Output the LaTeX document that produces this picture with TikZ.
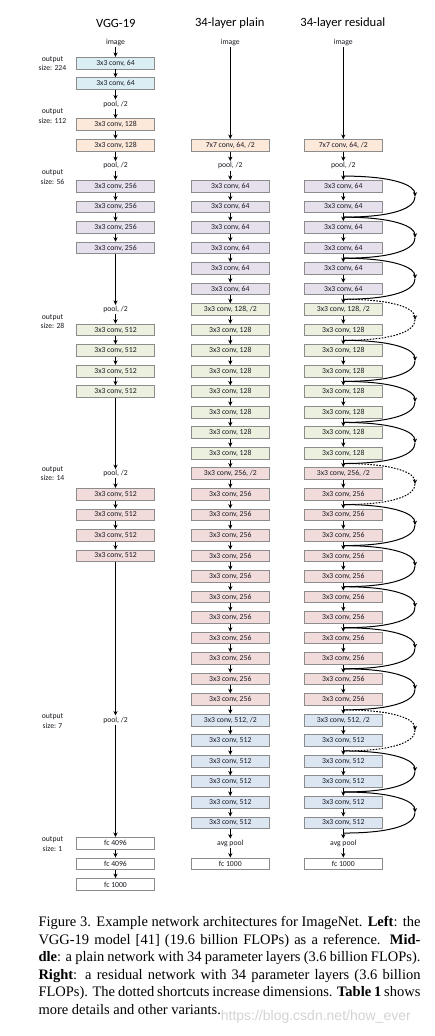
\documentclass[tikz,border=0pt]{standalone}
\usepackage{fontspec}
\setmainfont{Liberation Serif}
\newfontfamily\carl{Carlito}
\newfontfamily\wmfont{Liberation Sans}
\usetikzlibrary{arrows.meta}
\definecolor{cBlue}{HTML}{DAEEF3}
\definecolor{cPeach}{HTML}{FDE9D9}
\definecolor{cLav}{HTML}{E6E0EC}
\definecolor{cGreen}{HTML}{EBF1DE}
\definecolor{cPink}{HTML}{F2DCDB}
\definecolor{cSteel}{HTML}{DCE6F2}
\definecolor{cBorder}{HTML}{8C8C8C}
\definecolor{cText}{HTML}{1A1A22}
\newcommand{\rowy}[1]{145.3+20.53*(#1)}
\newcommand{\netcol}[2]{%
  \node[txt] (#1img) at (#2,{\rowy{-5}}) {image};
  \node[box,fill=cPeach] (#10) at (#2,{\rowy{0}}) {7x7 conv, 64, /2};
  \node[txt] (#11) at (#2,{\rowy{1}}) {pool, /2};
  \foreach \r in {2,...,7} {\node[box,fill=cLav] (#1\r) at (#2,{\rowy{\r}}) {3x3 conv, 64};}
  \node[box,fill=cGreen] (#18) at (#2,{\rowy{8}}) {3x3 conv, 128, /2};
  \foreach \r in {9,...,15} {\node[box,fill=cGreen] (#1\r) at (#2,{\rowy{\r}}) {3x3 conv, 128};}
  \node[box,fill=cPink] (#116) at (#2,{\rowy{16}}) {3x3 conv, 256, /2};
  \foreach \r in {17,...,27} {\node[box,fill=cPink] (#1\r) at (#2,{\rowy{\r}}) {3x3 conv, 256};}
  \node[box,fill=cSteel] (#128) at (#2,{\rowy{28}}) {3x3 conv, 512, /2};
  \foreach \r in {29,...,33} {\node[box,fill=cSteel] (#1\r) at (#2,{\rowy{\r}}) {3x3 conv, 512};}
  \node[txt] (#134) at (#2,{\rowy{34}}) {avg pool};
  \node[box,fill=white] (#135) at (#2,{\rowy{35}}) {fc 1000};
  \draw[arr] (#1img) -- (#10);
  \foreach \a [count=\b from 1] in {0,...,34} {\draw[arr] (#1\a) -- (#1\b);}
}
\begin{document}
\begin{tikzpicture}[x=1pt,y=-1pt,
  box/.style={draw=cBorder, line width=0.9pt, minimum width=78pt, minimum height=11.7pt,
    inner sep=0pt, font=\carl\fontsize{7.7}{8}\selectfont, text=cText},
  txt/.style={inner sep=1.2pt, font=\carl\fontsize{7.7}{8}\selectfont, text=cText},
  arr/.style={-{Stealth[length=4.5pt,width=4.2pt]}, line width=1pt},
  scut/.style={line width=1pt},
  dotcut/.style={line width=1pt, dash pattern=on 1.6pt off 1.4pt},
  scarr/.style={-{Stealth[length=4.5pt,width=4.2pt]}},
  titlefont/.style={font=\carl\fontsize{12.6}{14}\selectfont, text=black, inner sep=0pt},
  outlbl/.style={align=center, font=\carl\fontsize{7.7}{9.5}\selectfont, text=cText, inner sep=0pt}]
\fill[white] (0,0) rectangle (434,1036);
\useasboundingbox (0,0) rectangle (434,1036);

% titles
\node[titlefont] (t1) at (115.8,23) {VGG-19};
\node[titlefont] (t2) at (229.8,23) {34-layer plain};
\node[titlefont] (t3) at (342.8,23) {34-layer residual};

% output size labels
\node[outlbl] (o224) at (52.5,63.7) {output\\size: 224};
\node[outlbl] (o112) at (52.5,116.2) {output\\size: 112};
\node[outlbl] (o56) at (52.5,177.2) {output\\size: 56};
\node[outlbl] (o28) at (52.5,321.5) {output\\size: 28};
\node[outlbl] (o14) at (52.5,473.5) {output\\size: 14};
\node[outlbl] (o7) at (52.5,721) {output\\size: 7};
\node[outlbl] (o1) at (52.5,844) {output\\size: 1};

% VGG-19 column
\def\xv{115.5}
\node[txt] (vimg) at (\xv,{\rowy{-5}}) {image};
\node[box,fill=cBlue] (v1) at (\xv,{\rowy{-4}}) {3x3 conv, 64};
\node[box,fill=cBlue] (v2) at (\xv,{\rowy{-3}}) {3x3 conv, 64};
\node[txt] (vp1) at (\xv,{\rowy{-2}}) {pool, /2};
\node[box,fill=cPeach] (v3) at (\xv,{\rowy{-1}}) {3x3 conv, 128};
\node[box,fill=cPeach] (v4) at (\xv,{\rowy{0}}) {3x3 conv, 128};
\node[txt] (vp2) at (\xv,{\rowy{1}}) {pool, /2};
\node[box,fill=cLav] (v5) at (\xv,{\rowy{2}}) {3x3 conv, 256};
\node[box,fill=cLav] (v6) at (\xv,{\rowy{3}}) {3x3 conv, 256};
\node[box,fill=cLav] (v7) at (\xv,{\rowy{4}}) {3x3 conv, 256};
\node[box,fill=cLav] (v8) at (\xv,{\rowy{5}}) {3x3 conv, 256};
\node[txt] (vp3) at (\xv,{\rowy{8}}) {pool, /2};
\node[box,fill=cGreen] (v9) at (\xv,{\rowy{9}}) {3x3 conv, 512};
\node[box,fill=cGreen] (v10) at (\xv,{\rowy{10}}) {3x3 conv, 512};
\node[box,fill=cGreen] (v11) at (\xv,{\rowy{11}}) {3x3 conv, 512};
\node[box,fill=cGreen] (v12) at (\xv,{\rowy{12}}) {3x3 conv, 512};
\node[txt] (vp4) at (\xv,{\rowy{16}}) {pool, /2};
\node[box,fill=cPink] (v13) at (\xv,{\rowy{17}}) {3x3 conv, 512};
\node[box,fill=cPink] (v14) at (\xv,{\rowy{18}}) {3x3 conv, 512};
\node[box,fill=cPink] (v15) at (\xv,{\rowy{19}}) {3x3 conv, 512};
\node[box,fill=cPink] (v16) at (\xv,{\rowy{20}}) {3x3 conv, 512};
\node[txt] (vp5) at (\xv,{\rowy{28}}) {pool, /2};
\node[box,fill=white] (vf1) at (\xv,{\rowy{34}}) {fc 4096};
\node[box,fill=white] (vf2) at (\xv,{\rowy{35}}) {fc 4096};
\node[box,fill=white] (vf3) at (\xv,{\rowy{36}}) {fc 1000};
\foreach \a/\b in {vimg/v1,v1/v2,v2/vp1,vp1/v3,v3/v4,v4/vp2,vp2/v5,v5/v6,v6/v7,v7/v8,v8/vp3,
  vp3/v9,v9/v10,v10/v11,v11/v12,v12/vp4,vp4/v13,v13/v14,v14/v15,v15/v16,v16/vp5,vp5/vf1,vf1/vf2,vf2/vf3}
  {\draw[arr] (\a) -- (\b);}

% plain and residual columns
\netcol{p}{230.3}
\netcol{r}{343.3}

% shortcut junctions
\foreach \r in {2,4,...,34} {\coordinate (j\r) at (343.3,{\rowy{\r}-10.27});}
\foreach \r in {2,4,...,32} {\coordinate (m\r) at (415,{\rowy{\r}+10.27});}
\foreach \r [evaluate=\r as \s using int(\r+2)] in {2,4,6,10,12,14,18,20,22,24,26,30,32} {
  \draw[scut,scarr] (j\r) .. controls +(52,0) and +(0,-11) .. (m\r);
  \draw[scut] (m\r) .. controls +(0,11) and +(52,0) .. (j\s);
}
\foreach \r [evaluate=\r as \s using int(\r+2)] in {8,16,28} {
  \draw[dotcut,scarr] (j\r) .. controls +(52,0) and +(0,-11) .. (m\r);
  \draw[dotcut] (m\r) .. controls +(0,11) and +(52,0) .. (j\s);
}

% caption
\node[anchor=north west, text width=382pt, align=justify, inner sep=0pt,
  font=\fontsize{14.5}{17.5}\selectfont] (cap) at (38.3,916.5)
  {Figure 3. Example network architectures for ImageNet. \textbf{Left}: the\linebreak
   VGG-19 model [41] (19.6 billion FLOPs) as a reference. \textbf{Mid-}\linebreak
   \textbf{dle}: a plain network with 34 parameter layers (3.6 billion FLOPs).\linebreak
   \textbf{Right}: a residual network with 34 parameter layers (3.6 billion\linebreak
   FLOPs). The dotted shortcuts increase dimensions. \textbf{Table 1} shows\linebreak
   more details and other variants.};
\node[font=\wmfont\fontsize{14}{14}\selectfont, text=black!20, opacity=0.85] (wm) at (315.8,1016.5) {https://blog.csdn.net/how\_ever};
\end{tikzpicture}
\end{document}
